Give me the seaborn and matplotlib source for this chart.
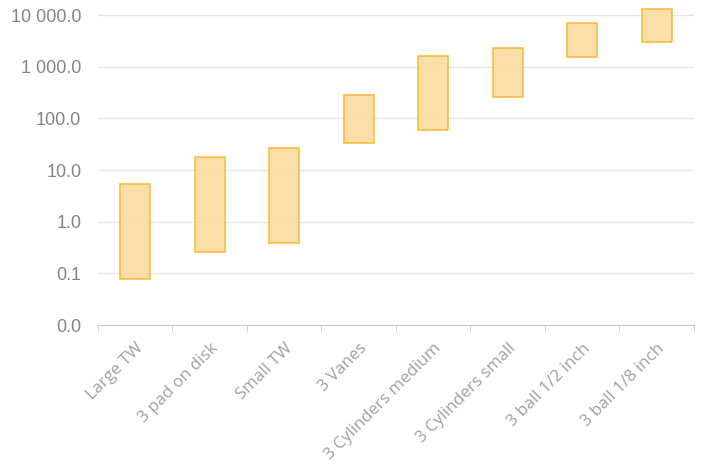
import numpy as np
import pandas as pd
import seaborn as sns
import matplotlib.pyplot as plt
from matplotlib.ticker import FuncFormatter, FixedLocator

sns.set_style("white")
plt.rcParams['font.family'] = ['Open Sans', 'DejaVu Sans']

# range of each device (low / high)
devices = ['Large TW', '3 pad on disk', 'Small TW', '3 Vanes',
           '3 Cylinders medium', '3 Cylinders small',
           '3 ball 1/2 inch', '3 ball 1/8 inch']
low = [0.078, 0.26, 0.39, 34, 60, 263, 1560, 3040]
high = [5.4, 18, 27, 288, 1630, 2340, 7100, 13300]

d = pd.DataFrame({'device': devices, 'low': low, 'high': high})
d['span'] = d['high'] - d['low']

fig = plt.figure(figsize=(7.02, 4.65), dpi=100)
ax = fig.add_axes([0.1396, 0.301, 0.849, 0.682])

sns.barplot(data=d, x='device', y='span', bottom=d['low'].values, ax=ax,
            width=0.4, color='#fcd99a', edgecolor='#f7b529', linewidth=1.2,
            saturation=1, alpha=0.85)

ax.set_yscale('log')
ax.set_ylim(0.01, 13800)
ax.set_xlim(-0.5, len(devices) - 0.5)

ax.yaxis.set_major_locator(FixedLocator([0.01, 0.1, 1, 10, 100, 1000, 10000]))
ax.yaxis.set_minor_locator(FixedLocator([]))
ax.yaxis.set_major_formatter(FuncFormatter(
    lambda v, p: ('%.1f' % v if v >= 0.1 else '0.0') if v < 1000
    else '{:,.1f}'.format(v).replace(',', ' ')))
ax.grid(axis='y', color='#e6e6e6', linewidth=1)
ax.set_axisbelow(True)

ax.xaxis.set_minor_locator(FixedLocator(np.arange(-0.5, len(devices), 1.0)))
ax.tick_params(axis='x', which='major', length=0, pad=11, labelsize=12.2,
               labelcolor='#a0a0a0')
ax.tick_params(axis='x', which='minor', length=4, color='#c8c8c8',
               direction='out', bottom=True)
ax.tick_params(axis='y', length=0, pad=12, labelsize=13, labelcolor='#858585')
for lab in ax.get_yticklabels():
    lab.set_fontfamily(['Liberation Sans', 'DejaVu Sans'])
plt.setp(ax.get_xticklabels(), rotation=45, ha='right', rotation_mode='anchor')

for s in ['top', 'right', 'left']:
    ax.spines[s].set_visible(False)
ax.spines['bottom'].set_color('#c8c8c8')
ax.set_xlabel('')
ax.set_ylabel('')

plt.savefig('out.png', dpi=100)
